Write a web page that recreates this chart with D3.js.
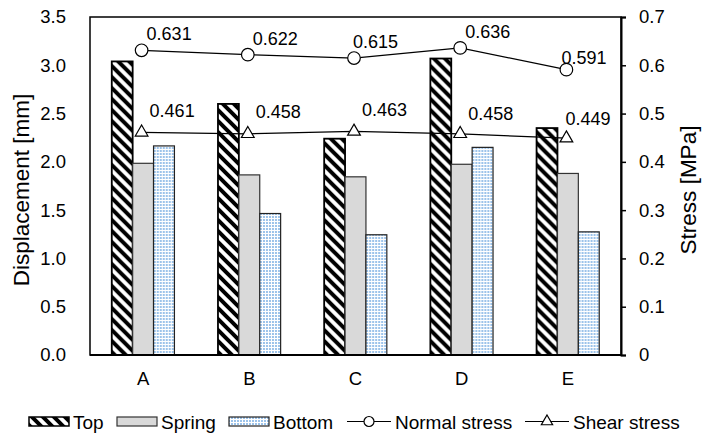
<!DOCTYPE html>
<html>
<head>
<meta charset="utf-8">
<script src="https://cdn.jsdelivr.net/npm/d3@7"></script>
<style>
  html, body { margin: 0; padding: 0; background: #fff; }
  svg { display: block; font-family: "Liberation Sans", Arial, sans-serif; }
</style>
</head>
<body>
<svg id="chart" width="702" height="433"></svg>
<script>
// ---- data ----
const categories = ["A", "B", "C", "D", "E"];
const seriesNames = ["Top", "Spring", "Bottom"];
const topValues = [3.04, 2.60, 2.24, 3.07, 2.35];
const springValues = [1.985, 1.865, 1.845, 1.975, 1.88];
const bottomValues = [2.165, 1.465, 1.245, 2.15, 1.275];
const normalStress = [0.631, 0.622, 0.615, 0.636, 0.591];
const shearStress = [0.461, 0.458, 0.463, 0.458, 0.449];
const leftTicks = [0, 0.5, 1.0, 1.5, 2.0, 2.5, 3.0, 3.5];
const rightTicks = [0, 0.1, 0.2, 0.3, 0.4, 0.5, 0.6, 0.7];

// ---- layout (not data) ----
const plot = { left: 90, top: 17, right: 621, bottom: 355 };
const normalNudge = [[0, 0], [0, 0], [-6, 0], [0, 0], [-10, 4]];
const shearNudge = [[0, 0], [0, -1], [0, 0], [0, 1], [-9, 2]];

const svg = d3.select("#chart");
svg.append("rect").attr("width", 702).attr("height", 433).attr("fill", "#fff");

const defs = svg.append("defs");
const hatch = defs.append("pattern").attr("id", "hatch")
  .attr("patternUnits", "userSpaceOnUse").attr("width", 11).attr("height", 11);
hatch.append("rect").attr("width", 11).attr("height", 11).attr("fill", "#fff");
hatch.append("path").attr("d", "M-2,-2 L13,13 M-7.5,3.5 L3.5,14.5 M3.5,-7.5 L14.5,3.5")
  .attr("stroke", "#000").attr("stroke-width", 4);
const dots = defs.append("pattern").attr("id", "dots")
  .attr("patternUnits", "userSpaceOnUse").attr("width", 3).attr("height", 3);
dots.append("rect").attr("width", 3).attr("height", 3).attr("fill", "#fff");
dots.append("rect").attr("width", 2).attr("height", 2).attr("fill", "#9cc3ea");

const fills = { Top: "url(#hatch)", Spring: "#d9d9d9", Bottom: "url(#dots)" };
const strokes = { Top: "#000", Spring: "#333", Bottom: "#222" };
const strokeW = { Top: 1.8, Spring: 1.2, Bottom: 1.2 };

const x0 = d3.scaleBand().domain(categories).range([plot.left, plot.right]).paddingInner(0.41).paddingOuter(0.205);
const x1 = d3.scaleBand().domain(seriesNames).range([0, x0.bandwidth()]);
const yL = d3.scaleLinear().domain([0, 3.5]).range([plot.bottom, plot.top]);
const yR = d3.scaleLinear().domain([0, 0.7]).range([plot.bottom, plot.top]);

const valuesBySeries = { Top: topValues, Spring: springValues, Bottom: bottomValues };

// plot frame
svg.append("rect").attr("x", plot.left).attr("y", plot.top)
  .attr("width", plot.right - plot.left).attr("height", plot.bottom - plot.top)
  .attr("fill", "none").attr("stroke", "#000").attr("stroke-width", 1.5);

// bars
const groups = svg.append("g").selectAll("g").data(categories).join("g")
  .attr("transform", d => `translate(${x0(d)},0)`);
groups.selectAll("rect").data((c, i) => seriesNames.map(s => ({ s, v: valuesBySeries[s][i] })))
  .join("rect")
  .attr("x", d => x1(d.s)).attr("width", x1.bandwidth())
  .attr("y", d => yL(d.v)).attr("height", d => yL(0) - yL(d.v))
  .attr("fill", d => fills[d.s]).attr("stroke", d => strokes[d.s]).attr("stroke-width", d => strokeW[d.s]);

// axes
const fs = "18.5px";
const leftAxis = d3.axisLeft(yL).tickValues(leftTicks).tickSize(0).tickPadding(24).tickFormat(d3.format(".1f"));
const gL = svg.append("g").attr("transform", `translate(${plot.left},0)`).call(leftAxis);
gL.select(".domain").remove();
gL.selectAll("text").attr("font-size", fs).attr("fill", "#000").attr("font-family", "Liberation Sans, Arial");

const rightAxis = d3.axisRight(yR).tickValues(rightTicks).tickSize(5).tickPadding(13)
  .tickFormat(d => d === 0 ? "0" : d3.format(".1f")(d));
const gR = svg.append("g").attr("transform", `translate(${plot.right},0)`).call(rightAxis);
gR.select(".domain").attr("stroke", "#000").attr("stroke-width", 2);
gR.selectAll("line").attr("stroke", "#000").attr("stroke-width", 1.5);
gR.selectAll("text").attr("font-size", fs).attr("fill", "#000").attr("font-family", "Liberation Sans, Arial");

const bottomAxis = d3.axisBottom(x0).tickSize(0).tickPadding(17);
const gB = svg.append("g").attr("transform", `translate(0,${plot.bottom})`).call(bottomAxis);
gB.select(".domain").attr("stroke", "#000").attr("stroke-width", 2).attr("d", `M${plot.left},0H${plot.right}`);
gB.selectAll("text").attr("font-size", fs).attr("fill", "#000").attr("font-family", "Liberation Sans, Arial");

// axis titles
svg.append("text").attr("transform", `translate(29,190) rotate(-90)`)
  .attr("text-anchor", "middle").attr("font-size", "22.5px").text("Displacement [mm]");
svg.append("text").attr("transform", `translate(696,190) rotate(-90)`)
  .attr("text-anchor", "middle").attr("font-size", "22.5px").text("Stress [MPa]");

// lines
const cx = c => x0(c) + x0.bandwidth() / 2 - 1.5;
const line = d3.line().x(d => cx(d.c)).y(d => yR(d.v));
const normalPts = categories.map((c, i) => ({ c, v: normalStress[i], i }));
const shearPts = categories.map((c, i) => ({ c, v: shearStress[i], i }));

svg.append("path").datum(normalPts).attr("d", line).attr("fill", "none").attr("stroke", "#000").attr("stroke-width", 1.2);
svg.append("path").datum(shearPts).attr("d", line).attr("fill", "none").attr("stroke", "#000").attr("stroke-width", 1.2);

svg.append("g").selectAll("circle").data(normalPts).join("circle")
  .attr("cx", d => cx(d.c)).attr("cy", d => yR(d.v)).attr("r", 6.3)
  .attr("fill", "#fff").attr("stroke", "#000").attr("stroke-width", 1.2);
const tri = d3.symbol().type(d3.symbolTriangle).size(70);
svg.append("g").selectAll("path").data(shearPts).join("path")
  .attr("d", tri).attr("transform", d => `translate(${cx(d.c)},${yR(d.v)})`)
  .attr("fill", "#fff").attr("stroke", "#000").attr("stroke-width", 1.2);

// data labels
svg.append("g").selectAll("text").data(normalPts).join("text")
  .attr("x", d => cx(d.c) + 5 + normalNudge[d.i][0]).attr("y", d => yR(d.v) - 10 + normalNudge[d.i][1])
  .attr("font-size", "18px").text(d => d3.format(".3f")(d.v));
svg.append("g").selectAll("text").data(shearPts).join("text")
  .attr("x", d => cx(d.c) + 8 + shearNudge[d.i][0]).attr("y", d => yR(d.v) - 15 + shearNudge[d.i][1])
  .attr("font-size", "18px").text(d => d3.format(".3f")(d.v));

// legend
const lg = svg.append("g").attr("font-size", "19px");
const ly = 421.5;
const barLegend = [
  { s: "Top", x: 29 }, { s: "Spring", x: 117 }, { s: "Bottom", x: 229 }
];
barLegend.forEach(b => {
  lg.append("rect").attr("x", b.x).attr("y", ly - 4.5).attr("width", 40).attr("height", 9)
    .attr("fill", fills[b.s]).attr("stroke", strokes[b.s]).attr("stroke-width", b.s === "Top" ? 1.5 : 1.2);
  lg.append("text").attr("x", b.x + 44).attr("y", ly + 7).text(b.s);
});
const lineLegend = [{ name: "Normal stress", x: 347, m: "circle" }, { name: "Shear stress", x: 525, m: "tri" }];
lineLegend.forEach(l => {
  lg.append("line").attr("x1", l.x).attr("x2", l.x + 44).attr("y1", ly).attr("y2", ly)
    .attr("stroke", "#000").attr("stroke-width", 1.2);
  if (l.m === "circle") {
    lg.append("circle").attr("cx", l.x + 22).attr("cy", ly).attr("r", 5)
      .attr("fill", "#fff").attr("stroke", "#000").attr("stroke-width", 1.2);
  } else {
    lg.append("path").attr("d", d3.symbol().type(d3.symbolTriangle).size(55))
      .attr("transform", `translate(${l.x + 22},${ly})`)
      .attr("fill", "#fff").attr("stroke", "#000").attr("stroke-width", 1.2);
  }
  lg.append("text").attr("x", l.x + 48).attr("y", ly + 7).text(l.name);
});
</script>
</body>
</html>
